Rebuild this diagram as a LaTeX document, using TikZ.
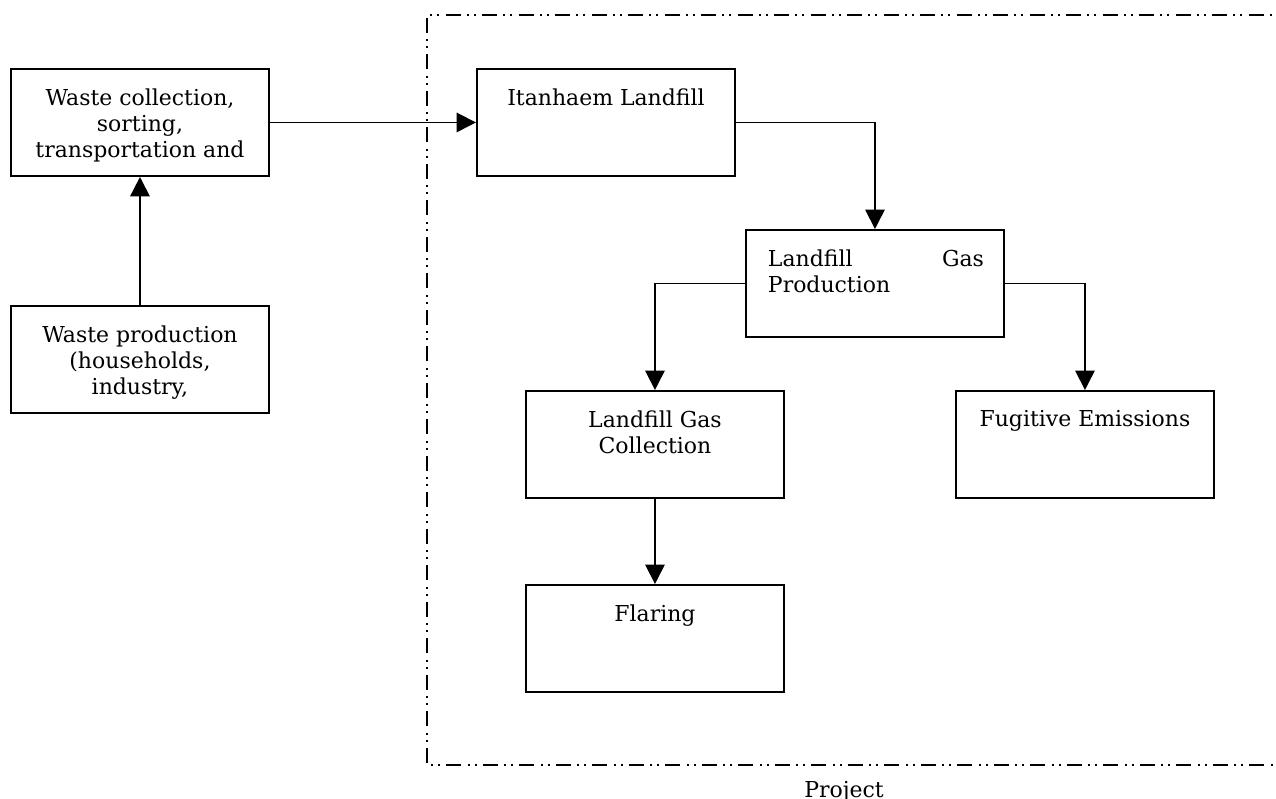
\documentclass[tikz,border=0pt]{standalone}
\usepackage{fontspec}
\setmainfont{DejaVu Serif}
\usetikzlibrary{arrows.meta}

\tikzset{
  stage/.style={draw, line width=1.1pt, anchor=north west, minimum width=5.16cm,
    minimum height=2.14cm, inner xsep=0.2cm, inner ysep=0pt},
  flow/.style={draw, line width=1pt, -{Triangle[length=11pt,width=11pt]}},
  boundary/.style={line width=1pt, dash pattern=on 0.3cm off 0.13cm on 0.04cm off 0.1cm on 0.04cm off 0.12cm}
}
\newcommand{\stagetext}[2][\centering]{\parbox[c][2.14cm][t]{4.76cm}{\vspace*{0.39cm}#1 #2}}

\begin{document}
\begin{tikzpicture}[font=\fontsize{12.5}{15}\selectfont]
\useasboundingbox (0,0) rectangle (25.52,-15.96);

% project boundary
\draw[boundary] (26,-0.3) -- (8.54,-0.3) -- (8.54,-15.3) -- (26,-15.3);
\node[anchor=base] (project) at (16.88,-15.94) {Project};

\node[stage] (collection) at (0.2,-1.36) {\stagetext{Waste collection,\\ sorting,\\ transportation and}};
\node[stage] (production) at (0.2,-6.1) {\stagetext{Waste production\\ (households,\\ industry,}};
\node[stage] (landfill) at (9.52,-1.36) {\stagetext{Itanhaem Landfill}};
\node[stage] (gasprod) at (14.9,-4.58) {\stagetext[\leftskip=0.24cm\rightskip=0.2cm]{Landfill\hfill Gas\\ Production}};
\node[stage] (gascoll) at (10.5,-7.8) {\stagetext{Landfill Gas\\ Collection}};
\node[stage] (fugitive) at (19.1,-7.8) {\stagetext{Fugitive Emissions}};
\node[stage] (flaring) at (10.5,-11.68) {\stagetext{Flaring}};

\path[flow] (production) -- (collection);
\path[flow] (collection) -- (landfill);
\path[flow] (landfill.east) -| (gasprod.north);
\path[flow] (gasprod.west) -| (gascoll.north);
\path[flow] (gasprod.east) -| (fugitive.north);
\path[flow] (gascoll) -- (flaring);
\end{tikzpicture}
\end{document}
